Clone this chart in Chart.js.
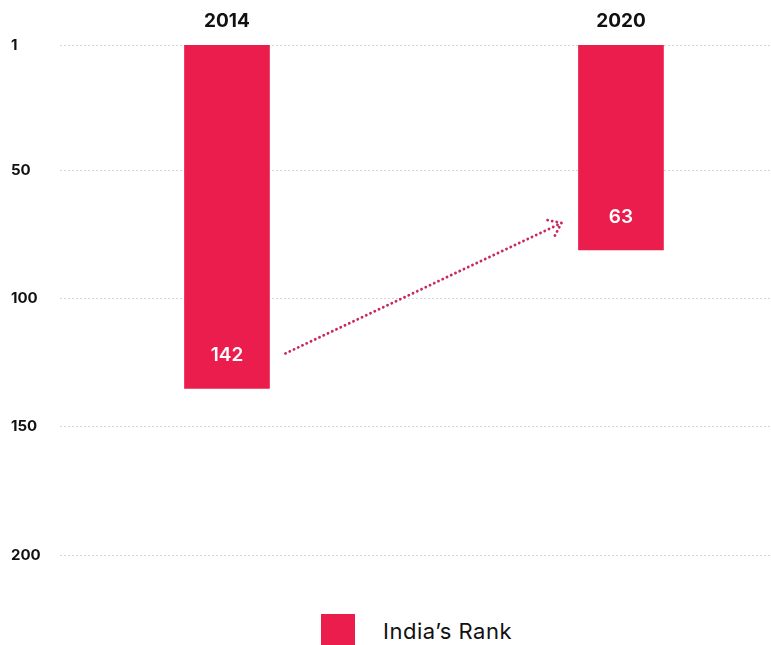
<!DOCTYPE html>
<html>
<head>
<meta charset="utf-8">
<script src="https://cdn.jsdelivr.net/npm/chart.js@4.4.1/dist/chart.umd.min.js"></script>
<style>
  html, body { margin: 0; padding: 0; background: #fff; overflow: hidden; }
  #wrap { position: relative; width: 771px; height: 645px; }
  #legend { position: absolute; left: 321px; top: 614px; display: flex; align-items: center;
    font-family: Inter, "Noto Sans", sans-serif; font-size: 22px; letter-spacing: 0.5px; color: #111; }
  #legend .box { width: 34px; height: 34px; background: #ea1d4c; margin-right: 28px; }
</style>
</head>
<body>
<div id="wrap">
  <canvas id="rank" width="771" height="600"></canvas>
  <div id="legend"><span class="box"></span><span>India’s Rank</span></div>
</div>
<script>
// data
const years = [2014, 2020];
const rankLabels = [142, 63];    // printed inside the bars
const barEnds = [135, 81];       // where the bars actually stop
const rankTicks = [1, 50, 100, 150, 200];

const barColor = '#ea1d4c';
const arrowColor = '#c9285c';
const font = 'Inter, "Noto Sans", sans-serif';

//labels inside bars + dotted arrow
const barNotes = {
  id: 'barNotes',
  afterDatasetsDraw(chart) {
    const ctx = chart.ctx;
    const bars = chart.getDatasetMeta(0).data;
    const labelY = bars.map(b => Math.max(b.y, b.base) - 33);

    ctx.save();
    ctx.fillStyle = '#fff';
    ctx.font = '600 19px ' + font;
    ctx.textAlign = 'center';
    ctx.textBaseline = 'middle';
    bars.forEach((b, i) => ctx.fillText(String(rankLabels[i]), b.x, labelY[i]));

    const x0 = bars[0].x + bars[0].width / 2 + 16, y0 = labelY[0] - 2;
    const x1 = bars[1].x - bars[1].width / 2 - 17, y1 = labelY[1] + 6;
    ctx.strokeStyle = arrowColor;
    ctx.lineWidth = 2.8;
    ctx.lineCap = 'round';
    ctx.setLineDash([0.1, 4.6]);
    ctx.beginPath();
    ctx.moveTo(x0, y0);
    ctx.lineTo(x1, y1);
    const back = Math.atan2(y0 - y1, x0 - x1);
    [0.65, -0.65].forEach(a => {
      ctx.moveTo(x1, y1);
      ctx.lineTo(x1 + 18 * Math.cos(back + a), y1 + 18 * Math.sin(back + a));
    });
    ctx.stroke();
    ctx.restore();
  }
};

new Chart(document.getElementById('rank'), {
  type: 'bar',
  data: {
    datasets: [{
      label: 'India’s Rank',
      data: years.map((y, i) => ({ x: y, y: [1, barEnds[i]] })),
      backgroundColor: barColor,
      barThickness: 85
    }]
  },
  options: {
    responsive: false,
    animation: false,
    layout: { padding: { left: 11, right: 0, top: 0, bottom: 45 } },
    plugins: {
      legend: { display: false },
      tooltip: { enabled: false }
    },
    scales: {
      x: {
        type: 'linear',
        position: 'top',
        offset: false,
        min: 2011.457,
        max: 2022.285,
        afterBuildTicks: axis => { axis.ticks = years.map(v => ({ value: v })); },
        afterFit: axis => { axis.height = 45; },
        grid: { display: false, drawTicks: false },
        border: { display: false },
        ticks: {
          padding: 12,
          color: '#111',
          font: { family: font, size: 19, weight: '700' },
          callback: v => String(v)
        }
      },
      y: {
        reverse: true,
        min: 1,
        max: 200,
        afterBuildTicks: axis => { axis.ticks = rankTicks.map(v => ({ value: v })); },
        afterFit: axis => { axis.width = 49; },
        grid: { color: '#d6d6d6', lineWidth: 1, drawTicks: false },
        border: { display: false, dash: [2, 2] },
        ticks: {
          crossAlign: 'far',
          color: '#111',
          font: { family: font, size: 15, weight: '700' }
        }
      }
    }
  },
  plugins: [barNotes]
});
</script>
</body>
</html>
